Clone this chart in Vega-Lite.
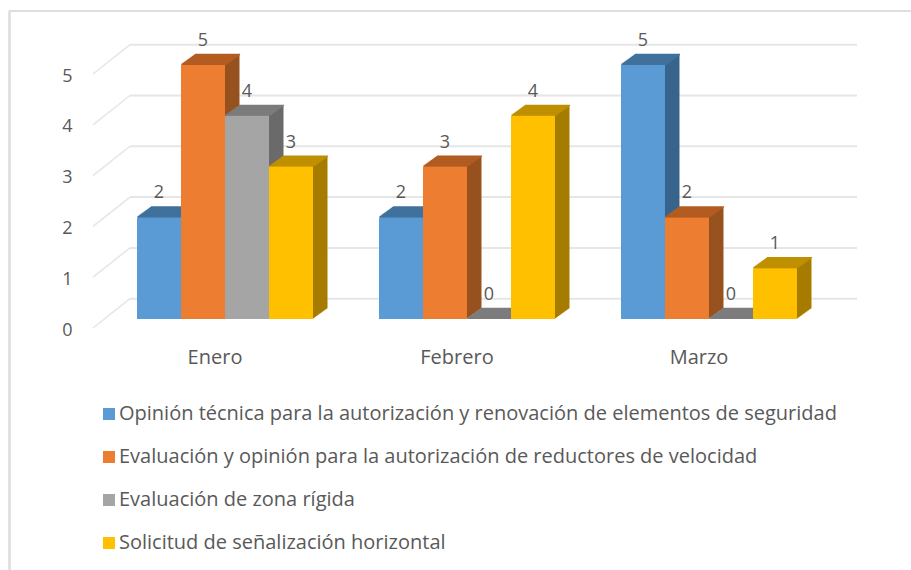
{"$schema":"https://vega.github.io/schema/vega-lite/v6.json","autosize":"none","padding":{"left":9,"top":11,"right":0,"bottom":0},"width":902,"height":559,"background":"white","config":{"view":{"stroke":null},"font":"Open Sans"},"data":{"values":[{"month":"Enero","order":0,"series":"Opinión técnica para la autorización y renovación de elementos de seguridad","value":2},{"month":"Enero","order":1,"series":"Evaluación y opinión para la autorización de reductores de velocidad","value":5},{"month":"Enero","order":2,"series":"Evaluación de zona rígida","value":4},{"month":"Enero","order":3,"series":"Solicitud de señalización horizontal","value":3},{"month":"Febrero","order":0,"series":"Opinión técnica para la autorización y renovación de elementos de seguridad","value":2},{"month":"Febrero","order":1,"series":"Evaluación y opinión para la autorización de reductores de velocidad","value":3},{"month":"Febrero","order":2,"series":"Evaluación de zona rígida","value":0},{"month":"Febrero","order":3,"series":"Solicitud de señalización horizontal","value":4},{"month":"Marzo","order":0,"series":"Opinión técnica para la autorización y renovación de elementos de seguridad","value":5},{"month":"Marzo","order":1,"series":"Evaluación y opinión para la autorización de reductores de velocidad","value":2},{"month":"Marzo","order":2,"series":"Evaluación de zona rígida","value":0},{"month":"Marzo","order":3,"series":"Solicitud de señalización horizontal","value":1}]},"resolve":{"scale":{"x":"independent"},"axis":{"x":"independent"}},"layer":[{"data":{"values":[{"level":0},{"level":1},{"level":2},{"level":3},{"level":4},{"level":5}]},"transform":[{"calculate":"datum.level+0.4","as":"back"},{"calculate":"datum.level-0.177","as":"front"}],"layer":[{"mark":{"type":"rule","stroke":"#e6e6e6","strokeWidth":2},"encoding":{"x":{"datum":4.84,"type":"quantitative","scale":{"domain":[0,100],"range":[84,848]},"axis":null},"x2":{"datum":100},"y":{"field":"back","type":"quantitative","scale":{"domain":[0,5],"range":[308,54],"nice":false,"zero":false},"axis":{"title":null,"orient":"left","offset":-58,"values":[0,1,2,3,4,5],"format":"d","grid":false,"domain":false,"ticks":false,"labelPadding":0,"labelAlign":"center","labelBaseline":"middle","labelOffset":11,"labelFontSize":18,"labelColor":"#595959","labelFont":"Open Sans"}}}},{"mark":{"type":"rule","stroke":"#e6e6e6","strokeWidth":1.5},"encoding":{"x":{"datum":0,"type":"quantitative"},"x2":{"datum":4.84},"y":{"field":"front","type":"quantitative"},"y2":{"field":"back"}}},{"mark":{"type":"rule","stroke":"#dedede","strokeWidth":1.5},"encoding":{"x":{"datum":-10.99,"type":"quantitative"},"x2":{"datum":110},"y":{"datum":6.063,"type":"quantitative"}}},{"mark":{"type":"rule","stroke":"#dedede","strokeWidth":1.5},"encoding":{"x":{"datum":-10.93,"type":"quantitative"},"y":{"datum":6.063,"type":"quantitative"},"y2":{"datum":-5}}}]},{"encoding":{"x":{"field":"month","type":"nominal","sort":["Enero","Febrero","Marzo"],"scale":{"range":[95,821],"paddingInner":0.2727,"paddingOuter":0.1364},"axis":{"title":null,"orient":"bottom","offset":-213,"domain":false,"ticks":false,"grid":false,"labelAngle":0,"labelPadding":0,"labelBaseline":"middle","labelOffset":-10,"labelFontSize":20,"labelColor":"#595959","labelFont":"Open Sans"}},"xOffset":{"field":"o","type":"quantitative","scale":null},"y":{"field":"value","type":"quantitative"}},"layer":[{"encoding":{"fill":{"field":"order","type":"nominal","legend":null,"scale":{"range":["#38648c","#975220","#6b6b6b","#a67c00"]}},"stroke":{"field":"order","type":"nominal","legend":null,"scale":{"range":["#41719c","#b35c22","#7c7c7c","#bf9000"]}}},"layer":[{"transform":[{"calculate":"datum.order*44+22+14.5","as":"o"}],"layer":[{"mark":{"type":"bar","width":44,"strokeWidth":0,"yOffset":-10.5}},{"mark":{"type":"tick","size":44,"thickness":0.1,"strokeWidth":1.2,"fillOpacity":0,"yOffset":-10.5}}]},{"transform":[{"calculate":"datum.order*44+22+13.5","as":"o"}],"layer":[{"mark":{"type":"bar","width":44,"strokeWidth":0,"yOffset":-9.75}},{"mark":{"type":"tick","size":44,"thickness":0.1,"strokeWidth":1.2,"fillOpacity":0,"yOffset":-9.75}}]},{"transform":[{"calculate":"datum.order*44+22+12.4","as":"o"}],"layer":[{"mark":{"type":"bar","width":44,"strokeWidth":0,"yOffset":-9}},{"mark":{"type":"tick","size":44,"thickness":0.1,"strokeWidth":1.2,"fillOpacity":0,"yOffset":-9}}]},{"transform":[{"calculate":"datum.order*44+22+11.4","as":"o"}],"layer":[{"mark":{"type":"bar","width":44,"strokeWidth":0,"yOffset":-8.25}},{"mark":{"type":"tick","size":44,"thickness":0.1,"strokeWidth":1.2,"fillOpacity":0,"yOffset":-8.25}}]},{"transform":[{"calculate":"datum.order*44+22+10.4","as":"o"}],"layer":[{"mark":{"type":"bar","width":44,"strokeWidth":0,"yOffset":-7.5}},{"mark":{"type":"tick","size":44,"thickness":0.1,"strokeWidth":1.2,"fillOpacity":0,"yOffset":-7.5}}]},{"transform":[{"calculate":"datum.order*44+22+9.3","as":"o"}],"layer":[{"mark":{"type":"bar","width":44,"strokeWidth":0,"yOffset":-6.75}},{"mark":{"type":"tick","size":44,"thickness":0.1,"strokeWidth":1.2,"fillOpacity":0,"yOffset":-6.75}}]},{"transform":[{"calculate":"datum.order*44+22+8.3","as":"o"}],"layer":[{"mark":{"type":"bar","width":44,"strokeWidth":0,"yOffset":-6}},{"mark":{"type":"tick","size":44,"thickness":0.1,"strokeWidth":1.2,"fillOpacity":0,"yOffset":-6}}]},{"transform":[{"calculate":"datum.order*44+22+7.25","as":"o"}],"layer":[{"mark":{"type":"bar","width":44,"strokeWidth":0,"yOffset":-5.25}},{"mark":{"type":"tick","size":44,"thickness":0.1,"strokeWidth":1.2,"fillOpacity":0,"yOffset":-5.25}}]},{"transform":[{"calculate":"datum.order*44+22+6.2","as":"o"}],"layer":[{"mark":{"type":"bar","width":44,"strokeWidth":0,"yOffset":-4.5}},{"mark":{"type":"tick","size":44,"thickness":0.1,"strokeWidth":1.2,"fillOpacity":0,"yOffset":-4.5}}]},{"transform":[{"calculate":"datum.order*44+22+5.2","as":"o"}],"layer":[{"mark":{"type":"bar","width":44,"strokeWidth":0,"yOffset":-3.75}},{"mark":{"type":"tick","size":44,"thickness":0.1,"strokeWidth":1.2,"fillOpacity":0,"yOffset":-3.75}}]},{"transform":[{"calculate":"datum.order*44+22+4.1","as":"o"}],"layer":[{"mark":{"type":"bar","width":44,"strokeWidth":0,"yOffset":-3}},{"mark":{"type":"tick","size":44,"thickness":0.1,"strokeWidth":1.2,"fillOpacity":0,"yOffset":-3}}]},{"transform":[{"calculate":"datum.order*44+22+3.1","as":"o"}],"layer":[{"mark":{"type":"bar","width":44,"strokeWidth":0,"yOffset":-2.25}},{"mark":{"type":"tick","size":44,"thickness":0.1,"strokeWidth":1.2,"fillOpacity":0,"yOffset":-2.25}}]},{"transform":[{"calculate":"datum.order*44+22+2.1","as":"o"}],"layer":[{"mark":{"type":"bar","width":44,"strokeWidth":0,"yOffset":-1.5}},{"mark":{"type":"tick","size":44,"thickness":0.1,"strokeWidth":1.2,"fillOpacity":0,"yOffset":-1.5}}]},{"transform":[{"calculate":"datum.order*44+22+1","as":"o"}],"layer":[{"mark":{"type":"bar","width":44,"strokeWidth":0,"yOffset":-0.75}},{"mark":{"type":"tick","size":44,"thickness":0.1,"strokeWidth":1.2,"fillOpacity":0,"yOffset":-0.75}}]}]},{"transform":[{"calculate":"datum.order*44+22","as":"o"}],"layer":[{"mark":{"type":"bar","width":44},"encoding":{"color":{"field":"series","type":"nominal","scale":{"domain":["Opinión técnica para la autorización y renovación de elementos de seguridad","Evaluación y opinión para la autorización de reductores de velocidad","Evaluación de zona rígida","Solicitud de señalización horizontal"],"range":["#5B9BD5","#ED7D31","#A5A5A5","#FFC000"]},"legend":{"title":null,"orient":"none","legendX":90,"legendY":393,"symbolType":"square","symbolSize":144,"symbolStrokeWidth":0,"clipHeight":20,"rowPadding":23,"labelFontSize":20,"labelColor":"#595959","labelFont":"Open Sans","labelLimit":900,"labelOffset":0}}}},{"mark":{"type":"text","dy":-24,"fontSize":18,"color":"#595959","font":"Open Sans"},"encoding":{"text":{"field":"value","type":"quantitative"}}}]}]}]}
